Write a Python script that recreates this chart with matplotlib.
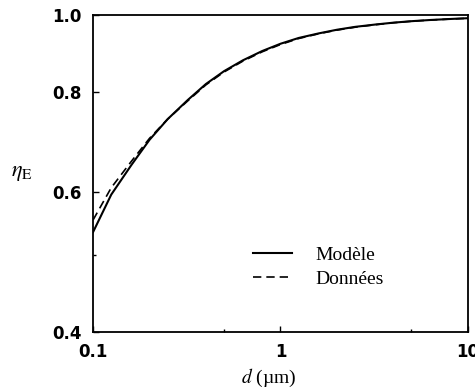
import matplotlib
matplotlib.use('Agg')
from matplotlib import pyplot as plt
from matplotlib.ticker import FixedLocator, NullFormatter

# values
d_vals = [0.1, 0.125, 0.16, 0.2, 0.25, 0.32, 0.4, 0.5, 0.63, 0.8, 1.0,
          1.25, 1.6, 2.0, 2.5, 3.2, 4.0, 5.0, 6.3, 8.0, 10.0]
eta_model = [0.534, 0.595, 0.648, 0.697, 0.740, 0.782, 0.819, 0.850, 0.877, 0.901, 0.920,
             0.9355, 0.948, 0.958, 0.966, 0.9725, 0.9778, 0.982, 0.9854, 0.9882, 0.9905]
eta_data = [0.553, 0.607, 0.655, 0.700, 0.740, 0.780, 0.817, 0.848, 0.875, 0.899, 0.918,
            0.934, 0.947, 0.957, 0.965, 0.972, 0.9775, 0.9818, 0.9852, 0.988, 0.9903]

x_ticks = [0.1, 1, 10]
x_labels = ['0.1', '1', '10']
y_ticks = [0.4, 0.6, 0.8, 1.0]
y_labels = ['0.4', '0.6', '0.8', '1.0']

plt.rcParams['mathtext.fontset'] = 'stix'

fig = plt.figure(figsize=(4.75, 3.92), dpi=100)
ax = fig.add_axes([0.196, 0.153, 0.789, 0.809])

ax.plot(d_vals, eta_model, c='black', lw=1.5, label='Modèle')
ax.plot(d_vals, eta_data, c='black', lw=1.2, dashes=(5, 3), label='Données')

ax.set_xscale('log')
ax.set_yscale('log')
ax.set_xlim(0.1, 10)
ax.set_ylim(0.4, 1.0)

ax.xaxis.set_major_locator(FixedLocator(x_ticks))
ax.xaxis.set_minor_locator(FixedLocator([0.5, 5]))
ax.yaxis.set_major_locator(FixedLocator(y_ticks))
ax.yaxis.set_minor_locator(FixedLocator([0.5]))
ax.set_xticklabels(x_labels)
ax.set_yticklabels(y_labels)
ax.xaxis.set_minor_formatter(NullFormatter())
ax.yaxis.set_minor_formatter(NullFormatter())

ax.tick_params(axis='both', which='major', direction='in', length=4, width=1,
               labelsize=12, pad=8)
ax.tick_params(axis='both', which='minor', direction='in', length=2, width=1)
for lbl in ax.get_xticklabels() + ax.get_yticklabels():
    lbl.set_fontweight('bold')

for s in ax.spines.values():
    s.set_linewidth(1.3)

ax.set_xlabel(r'$d$ (µm)', fontsize=14, family='Liberation Serif')
ax.xaxis.set_label_coords(0.468, -0.11)
ax.set_ylabel(r'$\eta_{\mathrm{E}}$', fontsize=16, rotation=0)
ax.yaxis.set_label_coords(-0.19, 0.47)

ax.legend(loc='center left', bbox_to_anchor=(0.427, 0.205), frameon=False,
          prop={'family': 'Liberation Serif', 'size': 14},
          handlelength=2.0, handletextpad=1.2, borderpad=0, borderaxespad=0,
          labelspacing=0.3)

fig.savefig('out.png', dpi=100)
